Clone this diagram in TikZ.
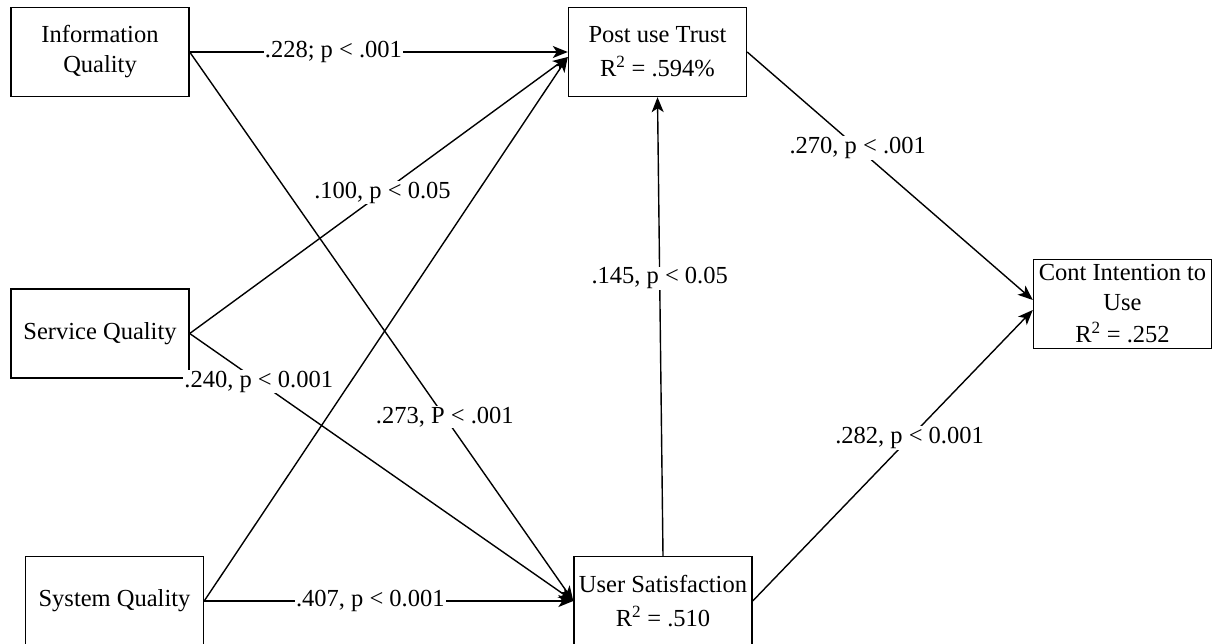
\documentclass[tikz,border=0pt]{standalone}
\usepackage{fontspec}
\setmainfont{Liberation Serif}
\usetikzlibrary{arrows.meta}
\begin{document}
\begin{tikzpicture}[x=1pt,y=-1pt,
  box/.style={draw, line width=1.4pt, minimum width=178pt, minimum height=89pt, align=center, inner sep=0pt, font=\fontsize{24.5}{30}\selectfont},
  conn/.style={line width=1.4pt, -{Stealth[length=15pt,width=12pt,inset=4pt]}},
  lbl/.style={fill=white, inner sep=1pt, font=\fontsize{24.5}{30}\selectfont}]
\useasboundingbox (0,0) rectangle (1213,643);
\node[box] (iq) at (100,52) {Information\\Quality};
\node[box] (put) at (657.5,52) {Post use Trust\\[4pt]R\textsuperscript{2} = .594\%};
\node[box] (sq) at (100,333.5) {Service Quality};
\node[box] (syq) at (114.5,601) {System Quality};
\node[box] (us) at (663,601) {User Satisfaction\\[4pt]R\textsuperscript{2} = .510};
\node[box] (ci) at (1122.5,304) {Cont Intention to\\Use\\[2pt]R\textsuperscript{2} = .252};
\draw[conn] (syq.east) -- ([yshift=-5pt]put.west);
\draw[conn] (iq.east) -- node[lbl,pos=0.38]{.228; p < .001} (put.west);
\draw[conn] (sq.east) -- node[lbl,pos=0.51]{.100, p < 0.05} ([yshift=-5pt]put.west);
\draw[conn] (iq.east) -- node[lbl,pos=0.665]{.273, P < .001} (us.west);
\draw[conn] (sq.east) -- node[lbl,pos=0.18]{.240, p < 0.001} (us.west);
\draw[conn] (syq.east) -- node[lbl,pos=0.45]{.407, p < 0.001} (us.west);
\draw[conn] (us.north) -- node[lbl,pos=0.605]{.145, p < 0.05} (put.south);
\draw[conn] (put.east) -- node[lbl,pos=0.387]{.270, p < .001} ([yshift=4pt]ci.west);
\draw[conn] (us.east) -- node[lbl,pos=0.56]{.282, p < 0.001} ([yshift=-6pt]ci.west);
\end{tikzpicture}
\end{document}
